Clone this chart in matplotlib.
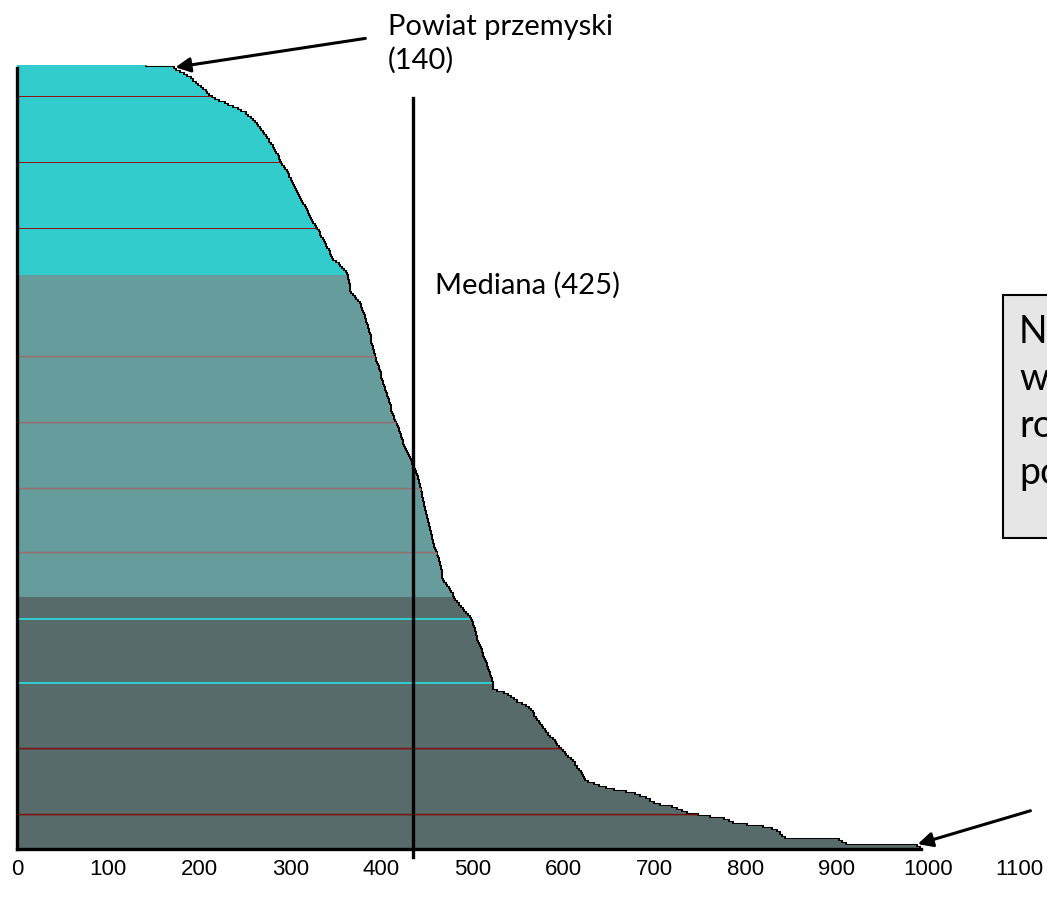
import numpy as np
import matplotlib.pyplot as plt
from matplotlib.patches import Rectangle

# values per powiat, sorted ascending (top bar = smallest)
values = [
    140, 171, 174, 178, 182, 186, 190, 192, 195, 198, 201, 203, 206, 208, 210, 213, 216, 221, 227, 231,
    236, 241, 245, 250, 253, 256, 258, 260, 262, 264, 266, 267, 269, 270, 272, 273, 275, 276, 278, 280,
    281, 282, 283, 285, 286, 287, 288, 289, 290, 292, 293, 295, 296, 297, 298, 300, 301, 302, 303, 304,
    305, 306, 307, 309, 310, 311, 312, 313, 315, 316, 317, 318, 320, 321, 322, 323, 324, 326, 327, 328,
    330, 331, 332, 333, 335, 336, 337, 338, 339, 341, 342, 343, 344, 345, 346, 349, 352, 354, 356, 358,
    360, 361, 362, 362, 363, 363, 364, 364, 364, 365, 366, 368, 370, 371, 373, 375, 376, 377, 378, 379,
    380, 381, 381, 382, 382, 383, 384, 384, 385, 385, 386, 387, 387, 388, 388, 389, 390, 390, 391, 391,
    392, 392, 393, 393, 394, 395, 396, 396, 397, 398, 399, 399, 400, 401, 401, 402, 403, 403, 404, 405,
    405, 406, 407, 407, 408, 409, 409, 410, 411, 412, 413, 413, 414, 415, 416, 417, 418, 418, 419, 420,
    421, 422, 423, 423, 424, 425, 426, 427, 428, 429, 430, 431, 432, 433, 434, 435, 436, 437, 438, 439,
    439, 440, 440, 441, 441, 442, 442, 443, 443, 444, 445, 445, 446, 446, 447, 447, 448, 448, 449, 449,
    450, 450, 451, 451, 452, 452, 453, 453, 454, 455, 456, 456, 457, 457, 458, 459, 460, 460, 461, 462,
    462, 463, 463, 464, 464, 465, 465, 466, 466, 467, 468, 470, 471, 473, 474, 475, 477, 478, 479, 480,
    482, 484, 486, 488, 490, 492, 494, 496, 497, 498, 499, 500, 501, 502, 502, 503, 503, 504, 504, 505,
    506, 507, 508, 509, 509, 510, 511, 512, 513, 514, 515, 515, 516, 517, 518, 518, 519, 520, 520, 521,
    521, 522, 522, 526, 534, 538, 541, 544, 548, 553, 558, 561, 563, 565, 566, 567, 569, 570, 572, 573,
    575, 576, 578, 580, 582, 584, 587, 589, 591, 592, 594, 596, 598, 600, 602, 604, 607, 609, 611, 612,
    614, 616, 618, 619, 620, 621, 622, 626, 632, 638, 645, 654, 668, 677, 683, 689, 694, 698, 705, 718,
    724, 729, 734, 746, 760, 775, 780, 785, 800, 818, 828, 833, 836, 839, 842, 901, 905, 909, 987, 990,
]
xticks = [0, 100, 200, 300, 400, 500, 600, 700, 800, 900, 1000, 1100]
median_pos = 435
median_label = 'Mediana (425)'
first_label = 'Powiat przemyski\n(140)'
box_text = 'Najwyższa\nwartość\nrocznie\npowiat'

n = len(values)
pos = np.arange(n)

# dpi 96 makes the dense hatch exactly 2 px apart; k keeps pixel sizes as at 100 dpi
DPI = 96
k = 100 / DPI
plt.rcParams['hatch.linewidth'] = 0.75 * k

W, H = 1047, 897
fig = plt.figure(figsize=(W / DPI, H / DPI), dpi=DPI)
ax = fig.add_axes([17 / W, 1 - 849 / H, 1002 / W, 784 / H])

ax.stairs(values, np.arange(n + 1) - 0.5, orientation='horizontal', baseline=None,
          color='black', linewidth=2.2 * k, zorder=1)

# three bands of the original rendering: plain, light stripes, dark stripes
accents = [15, 47, 79, 141, 173, 205, 236, 331, 363]
light = [268, 299]
zones = [(0, 102, None, '#8B1010'), (102, 258, '--------', '#957070'),
         (258, n, '--------', '#7A1212')]
for lo, hi, hatch, ec in zones:
    lw = [(0.7 if lo == 0 else 1.0) * k if i in accents else 0.0 for i in range(lo, hi)]
    bars = ax.barh(pos[lo:hi], values[lo:hi], height=1.0, color='#33CCCC',
                   edgecolor=ec, linewidth=lw, hatch=hatch, zorder=2)
    for i, b in zip(range(lo, hi), bars):
        if i in light:
            b.set_hatch(None)

ax.set_xlim(0, 1100)
ax.set_ylim(n - 0.5, -0.5)
ax.set_xticks(xticks)
ax.set_xticklabels([str(t) for t in xticks], fontsize=16 * k, family='Liberation Sans')
ax.tick_params(axis='x', length=0, pad=7 * k)
ax.set_yticks([])
for s in ['top', 'right']:
    ax.spines[s].set_visible(False)
ax.spines['left'].set_linewidth(2.4 * k)
ax.spines['bottom'].set_linewidth(2.4 * k)
ax.spines['bottom'].set_bounds(0, max(values) + 2)
ax.spines['left'].set_bounds(n - 0.5, 1)

ax.axvline(median_pos, ymin=-0.01, ymax=0.958, color='black', linewidth=2.4 * k,
           clip_on=False, zorder=3)

ax.annotate('', xy=(values[1], 0.8), xycoords='data',
            xytext=(368, H - 38), textcoords='figure pixels',
            arrowprops=dict(arrowstyle='-|>', color='black', lw=2.2 * k,
                            mutation_scale=22 * k))
ax.annotate('', xy=(values[-1] - 4, n - 2.5), xycoords='data',
            xytext=(1033, H - 810), textcoords='figure pixels',
            arrowprops=dict(arrowstyle='-|>', color='black', lw=2.2 * k,
                            mutation_scale=22 * k),
            annotation_clip=False)

fig.text(388 / W, 1 - 14 / H, first_label, family='Lato', fontsize=21 * k,
         va='top', ha='left', linespacing=1.3)
fig.text(435 / W, 1 - 285 / H, median_label, family='Lato', fontsize=21 * k,
         va='center', ha='left')

fig.patches.append(Rectangle((1003 / W, 1 - 538 / H), 80 / W, 243 / H,
                             transform=fig.transFigure, facecolor='#E6E6E6',
                             edgecolor='black', linewidth=1.5 * k))
fig.text(1019 / W, 1 - 314 / H, box_text, family='Lato', fontsize=27 * k,
         va='top', ha='left', linespacing=1.38)

fig.savefig('out.png', dpi=DPI)
